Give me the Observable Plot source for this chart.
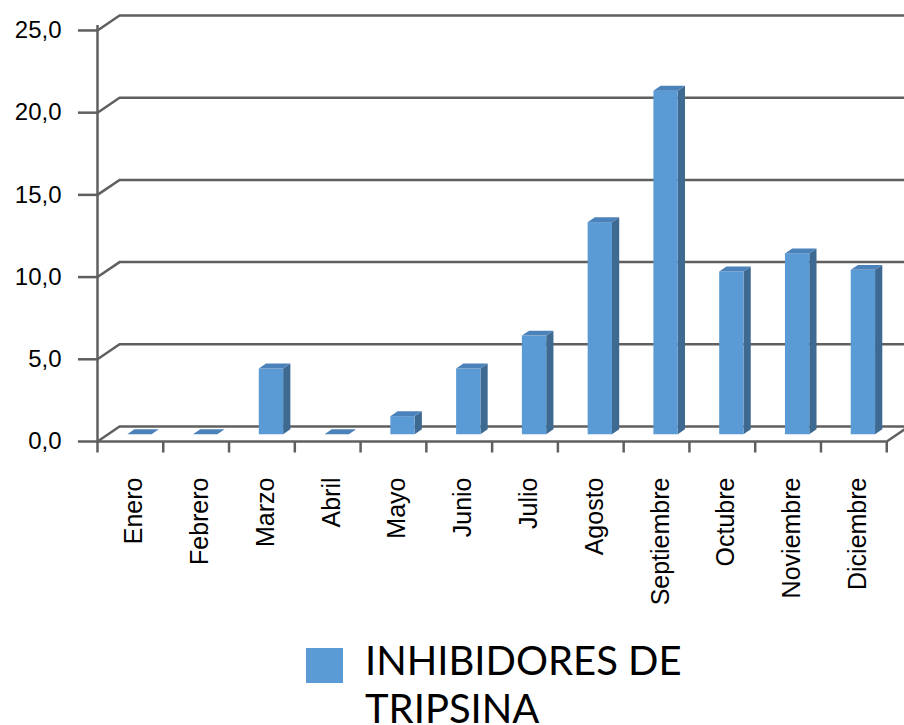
<!DOCTYPE html>
<html>
<head>
<meta charset="utf-8">
<script src="https://cdn.jsdelivr.net/npm/d3@7"></script>
<script src="https://cdn.jsdelivr.net/npm/@observablehq/plot@0.6"></script>
<style>
  body { margin: 0; background: #fff; font-family: "Liberation Sans", Arial, sans-serif; }
  #chart svg { display: block; }
  .legend { display: flex; align-items: flex-start; margin-left: 306px; margin-top: 11px; }
  .legend .sw { width: 37px; height: 35px; background: #5B9BD5; margin-top: 12px; flex: none; }
  .legend .lab { margin-left: 22px; width: 340px; font-family: Lato, "Open Sans", sans-serif; font-size: 40px; line-height: 48px; color: #000; }
</style>
</head>
<body>
<div id="chart"></div>
<div class="legend"><div class="sw"></div><div class="lab">INHIBIDORES DE TRIPSINA</div></div>
<script>
// ---- data ----
const months = ["Enero", "Febrero", "Marzo", "Abril", "Mayo", "Junio", "Julio", "Agosto", "Septiembre", "Octubre", "Noviembre", "Diciembre"];
const values = [0, 0, 4.0, 0, 1.1, 4.0, 6.0, 12.9, 20.9, 9.9, 11.0, 10.0];
const yTicks = [0, 5, 10, 15, 20, 25];
const seriesName = "INHIBIDORES DE TRIPSINA";

// ---- pseudo-3D geometry (in scale units) ----
const DEPTH_X = 0.335, DEPTH_Y = 0.91;      // wall depth
const X_MAX = 12.27;
const BAR_OFFSET = 0.46, BAR_WIDTH = 0.37;  // front face within category
const BAR_DX = 0.11, BAR_DY = 0.3;           // bar depth
const BAR_BASE = 0.41;                       // bars sit mid-depth

const bars = months.map((m, i) => ({month: m, i, v: values[i]}));
const sidePts = bars.flatMap(d => [
  {i: d.i, x: d.i + BAR_OFFSET + BAR_WIDTH, y1: BAR_BASE, y2: BAR_BASE + d.v},
  {i: d.i, x: d.i + BAR_OFFSET + BAR_WIDTH + BAR_DX, y1: BAR_BASE + BAR_DY, y2: BAR_BASE + d.v + BAR_DY}
]);
const topPts = bars.flatMap(d => [
  {i: d.i, y: BAR_BASE + d.v, x1: d.i + BAR_OFFSET, x2: d.i + BAR_OFFSET + BAR_WIDTH},
  {i: d.i, y: BAR_BASE + d.v + BAR_DY, x1: d.i + BAR_OFFSET + BAR_DX, x2: d.i + BAR_OFFSET + BAR_WIDTH + BAR_DX}
]);

const lineStyle = {stroke: "#5f5f5f", strokeWidth: 2.5};
const fmt = d => d.toFixed(1).replace(".", ",");

const chart = Plot.plot({
  width: 904,
  height: 625,
  marginLeft: 97,
  marginRight: 0,
  marginTop: 15,
  marginBottom: 184,
  style: {fontFamily: "'Liberation Sans', Arial, sans-serif", background: "#fff", color: "#000"},
  x: {domain: [0, X_MAX], axis: null},
  y: {domain: [0, 25 + DEPTH_Y]},
  marks: [
    // back wall gridlines
    Plot.ruleY(yTicks, {y: d => d + DEPTH_Y, x1: DEPTH_X, x2: X_MAX, ...lineStyle}),
    // diagonals from front axis to back wall
    Plot.link(yTicks, {x1: 0, y1: d => d, x2: DEPTH_X, y2: d => d + DEPTH_Y, ...lineStyle}),
    // front floor edge and right floor diagonal
    Plot.ruleY([0], {x1: 0, x2: 12, ...lineStyle}),
    Plot.link([0], {x1: 12, y1: 0, x2: 12 + DEPTH_X, y2: DEPTH_Y, ...lineStyle}),
    // front vertical axis
    Plot.ruleX([0], {y1: -0.12, y2: 25.3, ...lineStyle}),
    // y tick marks
    Plot.ruleY(yTicks, {x1: -0.29, x2: 0, ...lineStyle}),
    // category ticks
    Plot.ruleX(d3.range(months.length + 1), {y1: 0, y2: -0.7, ...lineStyle}),
    // bars: side, front, top
    Plot.area(sidePts, {x1: "x", y1: "y1", y2: "y2", z: "i", fill: "#3E6A91", curve: "linear"}),
    Plot.rect(bars, {x1: d => d.i + BAR_OFFSET, x2: d => d.i + BAR_OFFSET + BAR_WIDTH, y1: BAR_BASE, y2: d => BAR_BASE + d.v, fill: "#5B9BD5"}),
    Plot.area(topPts, {y1: "y", x1: "x1", x2: "x2", z: "i", fill: "#4C82BA", curve: "linear"}),
    // y axis labels
    Plot.axisY({ticks: yTicks, tickFormat: fmt, tickSize: 0, tickPadding: 36, fontSize: 24}),
    // month labels
    Plot.text(bars, {x: d => d.i + 0.5, y: 0, text: "month", rotate: -90, textAnchor: "end", dy: 36, dx: 4, fontSize: 25, fill: "#000"})
  ]
});
document.getElementById("chart").appendChild(chart);
</script>
</body>
</html>
